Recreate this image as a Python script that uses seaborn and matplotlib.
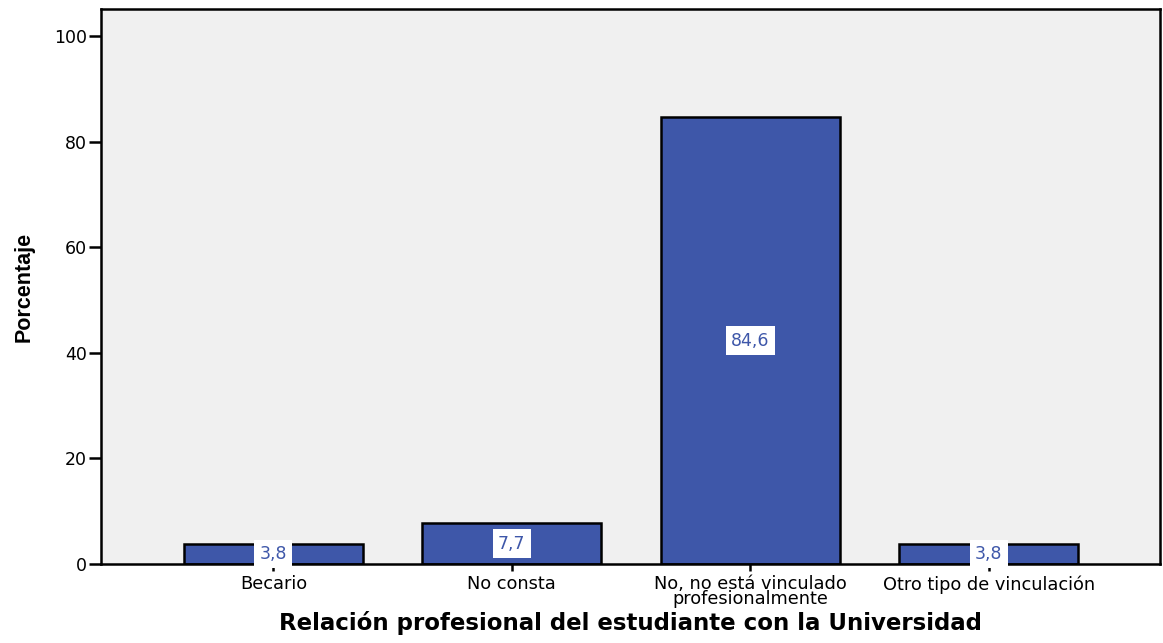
import matplotlib
matplotlib.use('Agg')
import matplotlib.pyplot as plt
import seaborn as sns
import pandas as pd

categories = ['Becario', 'No consta', 'No, no está vinculado\nprofesionalmente',
              'Otro tipo de vinculación']
percentages = [3.8, 7.7, 84.6, 3.8]
value_labels = ['3,8', '7,7', '84,6', '3,8']
y_ticks = [0, 20, 40, 60, 80, 100]

bar_color = '#3E57A9'

sns.set_style('white')
plt.rcParams['font.family'] = ['DejaVu Sans']
plt.rcParams['text.color'] = 'black'
plt.rcParams['xtick.color'] = 'black'
plt.rcParams['ytick.color'] = 'black'
plt.rcParams['axes.labelcolor'] = 'black'

df = pd.DataFrame({'cat': categories, 'pct': percentages})

fig = plt.figure(figsize=(11.63, 6.43), dpi=100)
ax = fig.add_axes([0.0868, 0.1229, 0.9105, 0.8631])
ax.set_facecolor('#F0F0F0')

sns.barplot(data=df, x='cat', y='pct', color=bar_color, saturation=1,
            width=0.75, edgecolor='black', linewidth=1.8, ax=ax)

for i, (v, lab) in enumerate(zip(percentages, value_labels)):
    ax.text(i, v / 2, lab, ha='center', va='center', fontsize=12.5,
            color=bar_color,
            bbox=dict(boxstyle='square,pad=0.3', fc='white', ec='none'))

ax.set_xlim(-0.723, 3.717)
ax.set_ylim(0, 105.1)
ax.set_yticks(y_ticks)
ax.set_yticklabels([str(t) for t in y_ticks])
ax.tick_params(axis='x', bottom=True, length=5, width=1.8, labelsize=12.8,
               pad=3, direction='out')
ax.tick_params(axis='y', left=True, length=9, width=1.8, labelsize=12.5,
               pad=1, direction='out')
for lab in ax.get_xticklabels():
    lab.set_linespacing(0.8)

for s in ax.spines.values():
    s.set_visible(True)
    s.set_color('black')
    s.set_linewidth(1.8)

ax.set_xlabel('Relación profesional del estudiante con la Universidad',
              fontsize=16.5, fontweight='bold', labelpad=2)
ax.set_ylabel('Porcentaje', fontsize=15.5, fontweight='bold', labelpad=14,
              family=['Liberation Sans Narrow', 'Liberation Sans', 'DejaVu Sans'])

fig.savefig('out.png', dpi=100)
